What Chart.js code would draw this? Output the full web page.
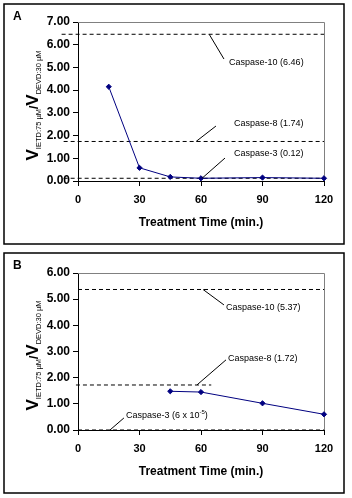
<!DOCTYPE html>
<html><head><meta charset="utf-8">
<script src="https://cdn.jsdelivr.net/npm/chart.js@4"></script>
<style>
html,body{margin:0;padding:0;background:#fff;}
#wrap{position:relative;width:352px;height:498px;}
canvas{position:absolute;left:0;width:352px;height:249px;}
#cA{top:0}
#cB{top:249px}
</style></head><body>
<div id="wrap"><canvas id="cA" width="352" height="249"></canvas><canvas id="cB" width="352" height="249"></canvas></div>
<script>
// ---- data ----
const timeTicks = [0, 30, 60, 90, 120];
const timesA = [15, 30, 45, 60, 90, 120];
const ratiosA = [4.15, 0.58, 0.18, 0.12, 0.15, 0.12];
const timesB = [45, 60, 90, 120];
const ratiosB = [1.48, 1.45, 1.02, 0.60];
const refNames = ['Caspase-10', 'Caspase-8', 'Caspase-3'];
const refValuesA = [6.46, 1.74, 0.12];
const refValuesB = [5.37, 1.72, 0.00006];
const refLabelsA = ['(6.46)', '(1.74)', '(0.12)'];
const refLabelsB = ['(5.37)', '(1.72)', '(6 x 10^-5)'];
const yMaxA = 7, yMaxB = 6;

// ---- layout of reference lines and their labels (data space) ----
const refSpanA = [[-8, 120], [-7, 120], [-7, 120]];
const refSpanB = [[0, 120], [-1, 65], [0, 120]];
const notePosA = [
  {at: [73.7, 5.2], from: [64, 6.46], to: [71.2, 5.37]},
  {at: [76.1, 2.51], from: [57.6, 1.74], to: [67.3, 2.42]},
  {at: [76.1, 1.23], from: [60.5, 0.12], to: [71.7, 1.01]}
];
const notePosB = [
  {at: [72.2, 4.70], from: [61, 5.37], to: [71.2, 4.78]},
  {at: [73.2, 2.75], from: [58, 1.72], to: [72.2, 2.68]},
  {at: [23.4, 0.57], from: [15.6, 0], to: [22.4, 0.46]}
];

const FONT = "'Liberation Sans', Arial, sans-serif";

function drawSegments(c, segs, x, y) {
  let cx = x;
  segs.forEach(s => {
    c.font = s.font;
    c.fillText(s.t, cx, y + (s.dy || 0));
    cx += c.measureText(s.t).width;
  });
  return cx - x;
}
function measureSegments(c, segs) {
  let w = 0;
  segs.forEach(s => { c.font = s.font; w += c.measureText(s.t).width; });
  return w;
}
function labelSegments(name, lab) {
  const base = '9px ' + FONT;
  const m = lab.match(/^\((.*)\^(.*)\)$/);
  if (m) {
    return [{t: name + ' (' + m[1], font: base}, {t: m[2], font: '6px ' + FONT, dy: -3}, {t: ')', font: base}];
  }
  return [{t: name + ' ' + lab, font: base}];
}

const decor = {
  id: 'decor',
  beforeDatasetsDraw(chart) {
    const c = chart.ctx, a = chart.chartArea;
    c.save();
    c.strokeStyle = '#808080'; c.lineWidth = 1;
    c.beginPath();
    c.moveTo(a.left, a.top + 0.5);
    c.lineTo(a.right + 0.5, a.top + 0.5);
    c.lineTo(a.right + 0.5, a.bottom);
    c.stroke();
    c.restore();
  },
  afterDraw(chart) {
    const c = chart.ctx, a = chart.chartArea, sx = chart.scales.x, sy = chart.scales.y;
    const o = chart.options.plugins.decor;
    c.save();
    c.strokeStyle = '#000'; c.lineWidth = 1.5;
    c.strokeRect(4, 4, 340, 240);
    c.fillStyle = '#000'; c.textBaseline = 'middle'; c.textAlign = 'left';
    c.font = 'bold 12px ' + FONT;
    c.fillText(o.letter, 13, 17);
    c.lineWidth = 1; c.strokeStyle = '#000';
    o.notes.forEach((n, i) => {
      c.beginPath();
      c.moveTo(sx.getPixelForValue(n.from[0]), sy.getPixelForValue(n.from[1]));
      c.lineTo(sx.getPixelForValue(n.to[0]), sy.getPixelForValue(n.to[1]));
      c.stroke();
      drawSegments(c, labelSegments(refNames[i], o.labels[i]),
        sx.getPixelForValue(n.at[0]), sy.getPixelForValue(n.at[1]));
    });
    const big = 'bold 17px ' + FONT, sub = '7.5px ' + FONT;
    const segs = [
      {t: 'V', font: big}, {t: 'IETD:75 \u00B5M', font: sub, dy: 3},
      {t: '/', font: 'bold 12px ' + FONT},
      {t: 'V', font: big}, {t: 'DEVD:30 \u00B5M', font: sub, dy: 3}
    ];
    c.textBaseline = 'alphabetic';
    const w = measureSegments(c, segs);
    c.translate(32, (a.top + a.bottom) / 2 + 4);
    c.rotate(-Math.PI / 2);
    drawSegments(c, segs, -w / 2, 6);
    c.restore();
  }
};

function makeChart(id, cfg) {
  const datasets = cfg.refValues.map((v, i) => ({
    data: [{x: cfg.refSpan[i][0], y: v}, {x: cfg.refSpan[i][1], y: v}],
    showLine: true, borderColor: '#000', borderWidth: 1, borderDash: [4, 3],
    pointRadius: 0, clip: false, order: 2
  }));
  datasets.push({
    data: cfg.times.map((t, i) => ({x: t, y: cfg.ratios[i]})),
    showLine: true, borderColor: '#000080', borderWidth: 1, tension: 0,
    pointStyle: 'rectRot', pointRadius: 2.6, pointBackgroundColor: '#000080',
    pointBorderColor: '#000080', pointBorderWidth: 1, clip: false, order: 1
  });
  return new Chart(document.getElementById(id), {
    type: 'scatter',
    data: {datasets},
    options: {
      responsive: false, animation: false, devicePixelRatio: 1,
      layout: {padding: {top: cfg.top, right: 28, left: 0, bottom: 0}},
      plugins: {legend: {display: false}, tooltip: {enabled: false},
        decor: {letter: cfg.letter, notes: cfg.notes, labels: cfg.labels}},
      scales: {
        x: {
          type: 'linear', min: 0, max: 120,
          afterBuildTicks: s => { s.ticks = timeTicks.map(v => ({value: v})); },
          afterFit: s => { s.height = 68; },
          grid: {drawOnChartArea: false, drawTicks: true, tickLength: 5, color: '#000'},
          border: {display: true, color: '#000', width: 1},
          ticks: {font: {family: FONT, size: 11, weight: 'bold'}, color: '#000', padding: 7, maxRotation: 0, autoSkip: false},
          title: {display: true, text: 'Treatment Time (min.)', color: '#000',
            font: {family: FONT, size: 12, weight: 'bold'}, padding: {top: 0, bottom: 19}}
        },
        y: {
          type: 'linear', min: 0, max: cfg.yMax,
          afterBuildTicks: s => { const t = []; for (let v = 0; v <= cfg.yMax; v++) t.push({value: v}); s.ticks = t; },
          afterFit: s => { s.width = 78; },
          grid: {drawOnChartArea: false, drawTicks: true, tickLength: 5, color: '#000'},
          border: {display: true, color: '#000', width: 1},
          ticks: {font: {family: FONT, size: 12, weight: 'bold'}, color: '#000', padding: 3, callback: v => Number(v).toFixed(2)}
        }
      }
    },
    plugins: [decor]
  });
}

makeChart('cA', {times: timesA, ratios: ratiosA, refValues: refValuesA, refSpan: refSpanA,
  yMax: yMaxA, top: 22, letter: 'A', notes: notePosA, labels: refLabelsA});
makeChart('cB', {times: timesB, ratios: ratiosB, refValues: refValuesB, refSpan: refSpanB,
  yMax: yMaxB, top: 24, letter: 'B', notes: notePosB, labels: refLabelsB});
</script>
</body></html>
